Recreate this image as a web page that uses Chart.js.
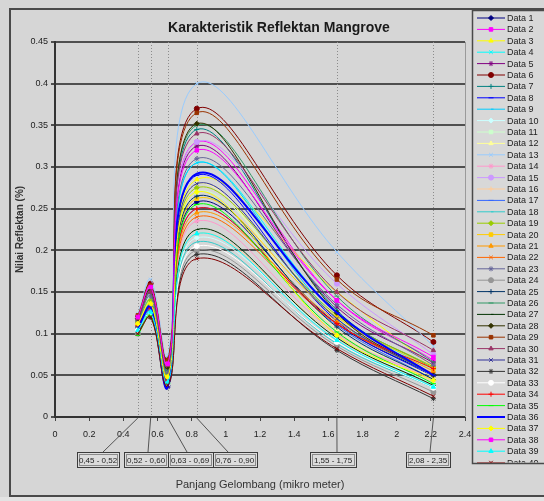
<!DOCTYPE html>
<html>
<head>
<meta charset="utf-8">
<script src="https://cdn.jsdelivr.net/npm/chart.js@4.4.1/dist/chart.umd.min.js"></script>
<style>
  html, body { margin: 0; padding: 0; background: #e3e3e3; }
  #wrap { width: 544px; height: 501px; }
</style>
</head>
<body>
<div id="wrap"><canvas id="chart" width="544" height="501"></canvas></div>
<script>
// ── Data ──
// Landsat TM band centres (micrometre)
const wavelengths = [0.485, 0.56, 0.66, 0.83, 1.65, 2.215];
const bandLabels = ['0,45 - 0,52', '0,52 - 0,60', '0,63 - 0,69', '0,76 - 0,90', '1,55 - 1,75', '2,08 - 2,35'];

const xTicks = [0, 0.2, 0.4, 0.6, 0.8, 1, 1.2, 1.4, 1.6, 1.8, 2, 2.2, 2.4];
const yTicks = [0, 0.05, 0.1, 0.15, 0.2, 0.25, 0.3, 0.35, 0.4, 0.45];

const seriesNames = Array.from({ length: 40 }, (_, i) => 'Data ' + (i + 1));

// Reflectance of each series per band (index = series)
const band1 = [0.108, 0.118, 0.112, 0.110, 0.115, 0.120, 0.116, 0.104, 0.110, 0.102,
               0.108, 0.112, 0.124, 0.110, 0.118, 0.105, 0.106, 0.102, 0.114, 0.112,
               0.110, 0.108, 0.114, 0.100, 0.108, 0.116, 0.104, 0.118, 0.122, 0.118,
               0.110, 0.102, 0.104, 0.110, 0.098, 0.106, 0.112, 0.120, 0.104, 0.100];
const band2 = [0.128, 0.155, 0.138, 0.140, 0.150, 0.160, 0.148, 0.125, 0.135, 0.122,
               0.132, 0.136, 0.165, 0.130, 0.152, 0.126, 0.128, 0.124, 0.140, 0.134,
               0.132, 0.130, 0.145, 0.120, 0.132, 0.150, 0.124, 0.152, 0.158, 0.150,
               0.134, 0.120, 0.124, 0.130, 0.122, 0.132, 0.136, 0.156, 0.126, 0.120];
const band3 = [0.040, 0.062, 0.050, 0.052, 0.058, 0.070, 0.056, 0.038, 0.048, 0.042,
               0.046, 0.050, 0.074, 0.045, 0.060, 0.044, 0.040, 0.042, 0.052, 0.048,
               0.046, 0.044, 0.054, 0.040, 0.042, 0.058, 0.038, 0.060, 0.068, 0.062,
               0.046, 0.036, 0.040, 0.044, 0.040, 0.036, 0.048, 0.064, 0.042, 0.038];
const band4 = [0.258, 0.330, 0.285, 0.305, 0.325, 0.370, 0.345, 0.290, 0.305, 0.215,
               0.270, 0.280, 0.400, 0.235, 0.330, 0.220, 0.250, 0.210, 0.275, 0.262,
               0.245, 0.240, 0.310, 0.200, 0.265, 0.350, 0.225, 0.352, 0.365, 0.340,
               0.280, 0.195, 0.205, 0.250, 0.255, 0.292, 0.270, 0.320, 0.220, 0.190];
const band5 = [0.112, 0.140, 0.150, 0.125, 0.132, 0.170, 0.128, 0.115, 0.118, 0.095,
               0.120, 0.105, 0.198, 0.100, 0.160, 0.098, 0.110, 0.088, 0.122, 0.120,
               0.115, 0.112, 0.135, 0.085, 0.108, 0.145, 0.095, 0.125, 0.165, 0.150,
               0.118, 0.080, 0.090, 0.112, 0.102, 0.125, 0.098, 0.140, 0.092, 0.082];
const band7 = [0.050, 0.068, 0.060, 0.055, 0.065, 0.090, 0.058, 0.048, 0.050, 0.040,
               0.055, 0.048, 0.085, 0.045, 0.075, 0.042, 0.045, 0.035, 0.060, 0.058,
               0.055, 0.052, 0.062, 0.030, 0.045, 0.066, 0.038, 0.050, 0.098, 0.080,
               0.050, 0.022, 0.035, 0.058, 0.040, 0.050, 0.044, 0.072, 0.036, 0.025];
const bands = [band1, band2, band3, band4, band5, band7];

// Spreadsheet default series colours
const seriesColors = ['#000080', '#ff00ff', '#ffff00', '#00ffff', '#800080', '#800000', '#008080', '#0000ff',
                      '#00ccff', '#ccffff', '#ccffcc', '#ffff99', '#99ccff', '#ff99cc', '#cc99ff', '#ffcc99',
                      '#3366ff', '#33cccc', '#99cc00', '#ffcc00', '#ff9900', '#ff6600', '#666699', '#969696',
                      '#003366', '#339966', '#003300', '#333300', '#993300', '#993366', '#333399', '#333333',
                      '#ffffff', '#ff0000', '#00ff00', '#0000ff', '#ffff00', '#ff00ff', '#00ffff', '#800000'];
const markers = ['rectRot', 'rect', 'triangle', 'crossRot', 'star', 'circle', 'cross', 'line', 'dash'];

const FONT = '"Liberation Sans", Arial, sans-serif';

function buildDatasets() {
  return seriesNames.map((name, i) => ({
    label: name,
    data: wavelengths.map((w, j) => ({ x: w, y: bands[j][i] })),
    borderColor: seriesColors[i],
    backgroundColor: seriesColors[i],
    borderWidth: i === 35 ? 2 : 1,
    pointStyle: markers[i % markers.length],
    pointRadius: 2.5,
    pointBorderWidth: 1,
    tension: 0.4,
    fill: false,
    order: 40 - i
  }));
}

// ── Decorations: frame, title, band lines, band boxes, legend ──
const decor = {
  id: 'decor',
  beforeDraw(chart) {
    const { ctx, width, height } = chart;
    ctx.save();
    ctx.fillStyle = '#d6d6d6';
    ctx.fillRect(0, 0, width, height);
    ctx.fillStyle = '#e3e3e3';
    ctx.fillRect(0, 497, width, height - 497);
    ctx.strokeStyle = '#4a4a4a';
    ctx.lineWidth = 2;
    ctx.strokeRect(10, 9, width, 487);
    ctx.restore();
  },
  beforeDatasetsDraw(chart) {
    const { ctx, chartArea: a, scales: { x } } = chart;
    ctx.save();
    ctx.strokeStyle = '#8c8c8c';
    ctx.lineWidth = 1;
    ctx.setLineDash([1, 2]);
    wavelengths.forEach(w => {
      const px = Math.round(x.getPixelForValue(w)) + 0.5;
      ctx.beginPath();
      ctx.moveTo(px, a.top);
      ctx.lineTo(px, a.bottom);
      ctx.stroke();
    });
    ctx.setLineDash([]);
    ctx.strokeStyle = '#9a9a9a';
    ctx.beginPath();
    ctx.moveTo(a.right + 0.5, a.top);
    ctx.lineTo(a.right + 0.5, a.bottom);
    ctx.stroke();
    ctx.restore();
  },
  afterDraw(chart) {
    const { ctx, width, chartArea: a, scales: { x } } = chart;
    ctx.save();

    // title
    ctx.fillStyle = '#1a1a1a';
    ctx.font = 'bold 14px ' + FONT;
    ctx.textAlign = 'center';
    ctx.textBaseline = 'middle';
    ctx.fillText('Karakteristik Reflektan Mangrove', 279, 28);

    // band boxes with leader lines
    const boxes = [
      { cx: 98, w: 42, lead: 103 }, { cx: 146, w: 44, lead: 148 }, { cx: 190, w: 45, lead: 187 },
      { cx: 235, w: 44, lead: 228 }, { cx: 333, w: 46, lead: 337 }, { cx: 428, w: 44, lead: 430 }
    ];
    const top = 452, h = 15;
    ctx.strokeStyle = '#555';
    ctx.lineWidth = 1;
    boxes.forEach((b, i) => {
      ctx.beginPath();
      ctx.moveTo(b.lead, top);
      ctx.lineTo(x.getPixelForValue(wavelengths[i]), a.bottom + 1);
      ctx.stroke();
    });
    ctx.font = '8px ' + FONT;
    boxes.forEach((b, i) => {
      const l = Math.round(b.cx - b.w / 2) + 0.5;
      ctx.fillStyle = '#dcdcdc';
      ctx.fillRect(l, top + 0.5, b.w, h);
      ctx.strokeStyle = '#3c3c3c';
      ctx.strokeRect(l, top + 0.5, b.w, h);
      ctx.strokeStyle = '#8a8a8a';
      ctx.strokeRect(l + 2, top + 2.5, b.w - 4, h - 4);
      ctx.fillStyle = '#222';
      ctx.fillText(bandLabels[i], b.cx, top + h / 2 + 1);
    });

    // legend
    const lx = 472.5, ly = 10.5, lb = 463.5;
    ctx.fillStyle = '#d8d8d8';
    ctx.fillRect(lx, ly, width - lx, lb - ly);
    ctx.strokeStyle = '#4a4a4a';
    ctx.lineWidth = 1.5;
    ctx.strokeRect(lx, ly, width, lb - ly);
    ctx.beginPath();
    ctx.rect(lx + 1, ly + 1, width, lb - ly - 2);
    ctx.clip();
    ctx.font = '9px ' + FONT;
    ctx.textAlign = 'left';
    chart.data.datasets.forEach((ds, i) => {
      const yy = 18 + i * 11.4;
      ctx.strokeStyle = ds.borderColor;
      ctx.fillStyle = ds.backgroundColor;
      ctx.lineWidth = ds.borderWidth;
      ctx.beginPath();
      ctx.moveTo(477, yy);
      ctx.lineTo(505, yy);
      ctx.stroke();
      ctx.lineWidth = 1;
      if (Chart.helpers && Chart.helpers.drawPoint) {
        Chart.helpers.drawPoint(ctx, { pointStyle: ds.pointStyle, radius: 2.5, rotation: 0, borderWidth: 1 }, 491, yy);
      } else {
        ctx.beginPath();
        ctx.arc(491, yy, 2.5, 0, Math.PI * 2);
        ctx.fill();
      }
      ctx.fillStyle = '#222';
      ctx.fillText(ds.label, 507, yy + 0.5);
    });
    ctx.restore();
  }
};

// ── Chart ──
new Chart(document.getElementById('chart').getContext('2d'), {
  type: 'line',
  data: { datasets: buildDatasets() },
  options: {
    responsive: false,
    animation: false,
    layout: { padding: { left: 0, right: 79, top: 42, bottom: 0 } },
    plugins: { legend: { display: false }, tooltip: { enabled: false } },
    scales: {
      x: {
        type: 'linear',
        min: 0, max: 2.4,
        afterBuildTicks: s => { s.ticks = xTicks.map(v => ({ value: v })); },
        afterFit: s => { s.height = 84; },
        grid: { drawOnChartArea: false, tickLength: 4, color: '#444' },
        border: { display: true, color: '#333', width: 2 },
        ticks: { color: '#222', font: { family: FONT, size: 9 }, padding: 8, maxRotation: 0, autoSkip: false, callback: v => String(v) },
        title: { display: true, text: 'Panjang Gelombang (mikro meter)', color: '#333', font: { family: FONT, size: 11 }, padding: { top: 0, bottom: 9.4 } }
      },
      y: {
        min: 0, max: 0.45,
        afterBuildTicks: s => { s.ticks = yTicks.map(v => ({ value: v })); },
        afterFit: s => { s.width = 55; },
        grid: { color: '#4f4f4f', lineWidth: 2, tickLength: 4 },
        border: { display: true, color: '#333', width: 2 },
        ticks: { color: '#222', font: { family: FONT, size: 9 }, padding: 3, autoSkip: false, callback: v => String(v) },
        title: { display: true, text: 'Nilai Reflektan (%)', color: '#333', font: { family: FONT, size: 10, weight: 'bold' }, padding: { top: 14, bottom: 0 } }
      }
    }
  },
  plugins: [decor]
});
</script>
</body>
</html>
